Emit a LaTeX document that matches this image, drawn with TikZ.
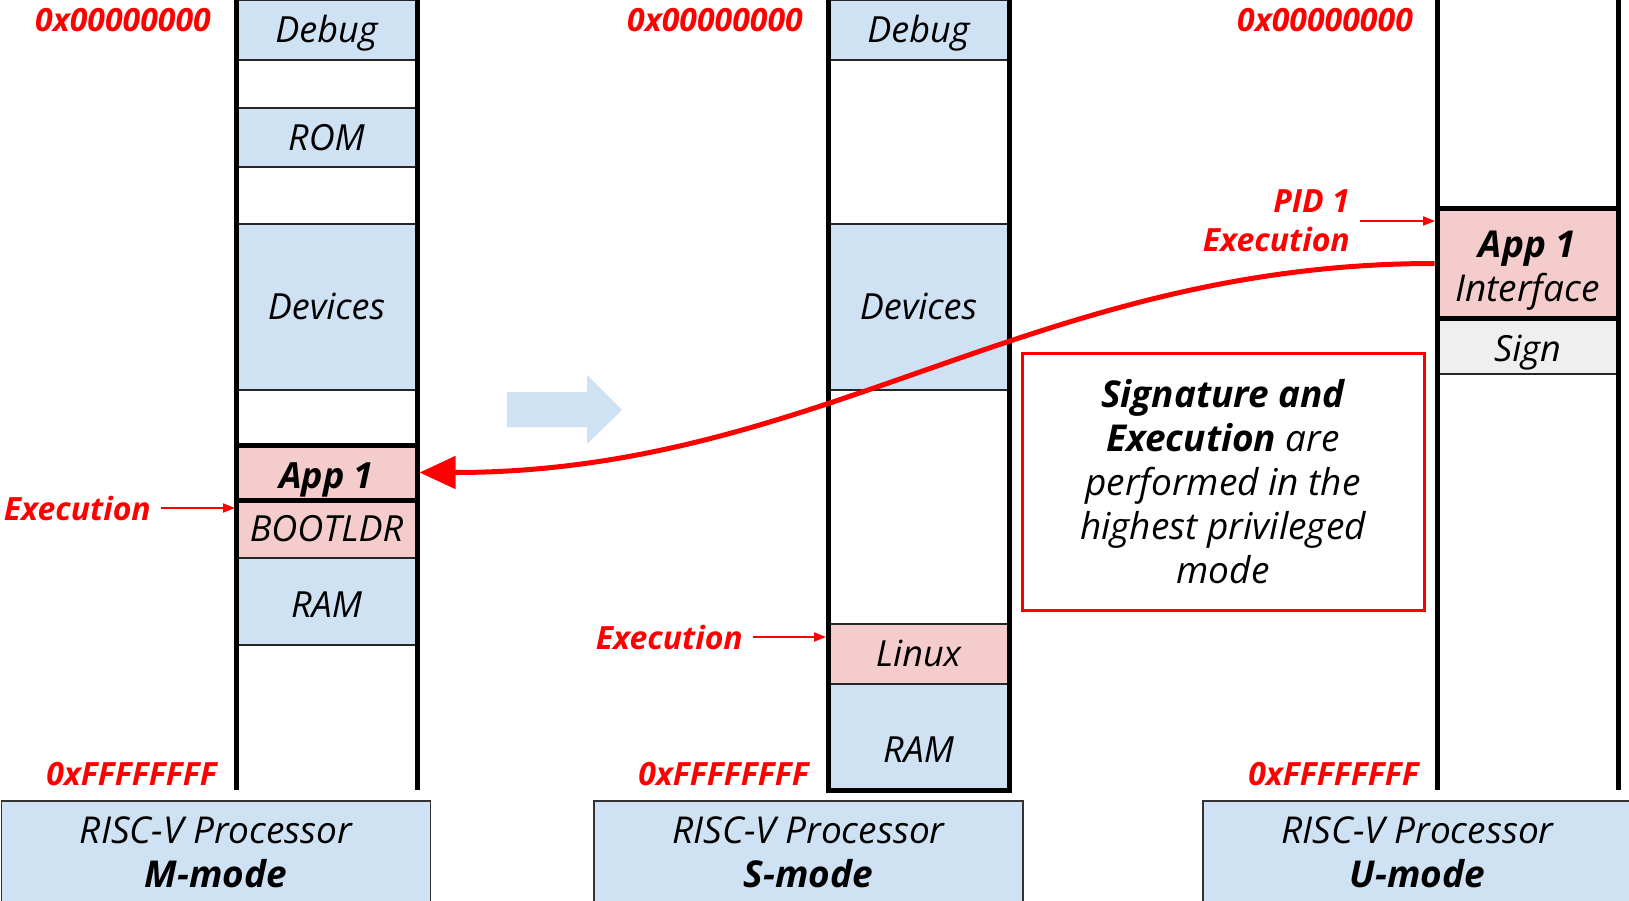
\documentclass[tikz,border=0pt]{standalone}
\usepackage{fontspec}
\setmainfont{Open Sans}
\usetikzlibrary{positioning,arrows.meta}

\definecolor{memblue}{HTML}{CFE2F3}
\definecolor{mempink}{HTML}{F4CCCC}
\definecolor{memgray}{HTML}{EFEFEF}
\definecolor{hotred}{HTML}{FF0000}

\begin{document}
\begin{tikzpicture}[x=1pt,y=-1pt,
    seg/.style={draw=black!85,line width=1.5pt,fill=memblue,minimum width=181pt,inner sep=0pt,
                text height=25.7pt,text depth=0pt,
                font=\fontsize{36}{43}\selectfont\itshape,align=center},
    app/.style={seg,fill=mempink,draw=black,line width=5pt},
    addr/.style={text=hotred,inner sep=0pt,anchor=east,
                 font=\fontsize{32}{39}\selectfont\bfseries\itshape},
    exec/.style={addr,align=right},
    cpu/.style={draw=black!80,line width=1.5pt,fill=memblue,minimum width=429pt,minimum height=104pt,
                anchor=north,align=center,font=\fontsize{37}{44}\selectfont\itshape},
    rail/.style={line width=5pt,line join=miter},
    hint/.style={hotred,line width=1.8pt,shorten <=10pt,-{Triangle[length=12pt,width=9pt]}}
  ]
   \useasboundingbox (0,0) rectangle (1629,901);

   % M-mode map
   \node[seg,minimum height=60pt]  (mdbg)  at (326.5,30)    {Debug};
   \node[seg,minimum height=59pt]  (mrom)  at (326.5,137.5) {ROM};
   \node[seg,minimum height=166pt] (mdev)  at (326.5,307)   {Devices};
   \node[seg,minimum height=87pt]  (mram)  at (326.5,601.5) {\raisebox{-3pt}{RAM}};
   \node[seg,fill=mempink,minimum height=58pt] (mboot) at (326.5,529) {BOOTLDR};
   \node[app,minimum height=55pt]  (mapp)  at (326.5,472.5) {\raisebox{-3pt}{\bfseries App 1}};
   \draw[rail] (236,0) -- (236,790) (417,0) -- (417,790);

   % S-mode map
   \node[seg,minimum height=60pt]  (sdbg)  at (918.5,30)  {Debug};
   \node[seg,minimum height=166pt] (sdev)  at (918.5,307) {Devices};
   \node[seg,fill=mempink,minimum height=60pt] (slnx) at (918.5,654) {Linux};
   \node[seg,minimum height=106pt] (sram)  at (918.5,737) {\raisebox{-13pt}{RAM}};
   \draw[rail] (828,0) -- (828,790) -- (1009,790) -- (1009,0);

   % U-mode map
   \node[seg,fill=memgray,minimum height=56pt] (usig) at (1527.5,346) {\raisebox{-3pt}{Sign}};
   \node[app,minimum height=109pt,text height=,text depth=,font=\fontsize{37}{44}\selectfont\itshape]
     (uapp) at (1527.5,263.5) {\rule{0pt}{40pt}\textbf{App 1}\\Interface};
   \draw[rail] (1437,0) -- (1437,790) (1618,0) -- (1618,790);

   % addresses
   \node[addr] (mtop) at (211,20)  {0x00000000};
   \node[addr] (mbot) at (217,774) {0xFFFFFFFF};
   \node[addr] (stop) at (803,20)  {0x00000000};
   \node[addr] (sbot) at (809,774) {0xFFFFFFFF};
   \node[addr] (utop) at (1413,20) {0x00000000};
   \node[addr] (ubot) at (1419,774) {0xFFFFFFFF};

   % execution pointers
   \node[exec] (mexe) at (151,508)  {Execution};
   \node[exec] (sexe) at (743,637)  {Execution};
   \node[exec] (uexe) at (1350,221) {PID 1\\Execution};
   \coordinate (mhit) at (235,508);
   \coordinate (shit) at (826,637);
   \coordinate (uhit) at (1435,221);
   \draw[hint] (mexe.east) -- (mhit);
   \draw[hint] (sexe.east) -- (shit);
   \draw[hint] (uexe.east) -- (uhit);

   % mode switch
   \fill[memblue] (507,392) -- (587,392) -- (587,375) -- (622,410) -- (587,444) -- (587,427) -- (507,427) -- cycle;

   \draw[hotred,line width=5pt,-{Triangle[length=36pt,width=32pt]}]
     (uapp.west) .. controls +(-400,0) and +(400,0) .. (mapp.east);

   \node[draw=hotred,line width=3pt,minimum width=402pt,minimum height=257pt,align=center,
         font=\fontsize{37}{44}\selectfont\itshape] (note) at (1223,481.5)
     {\textbf{Signature and}\\\textbf{Execution} are\\performed in the\\highest privileged\\mode};

   % processors
   \node[cpu] (mcpu) at (216,800)    {RISC-V Processor\\\textbf{M-mode}};
   \node[cpu] (scpu) at (808.5,800)  {RISC-V Processor\\\textbf{S-mode}};
   \node[cpu] (ucpu) at (1417.5,800) {RISC-V Processor\\\textbf{U-mode}};
\end{tikzpicture}
\end{document}
